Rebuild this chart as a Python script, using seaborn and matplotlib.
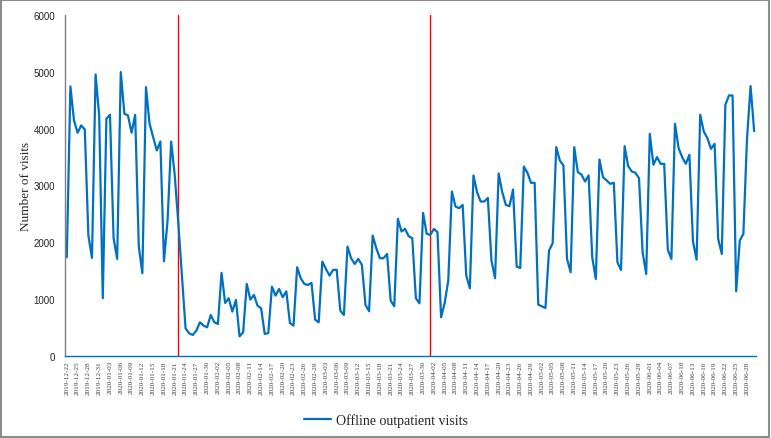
import numpy as np
import pandas as pd
import matplotlib
matplotlib.use("Agg")
import matplotlib.pyplot as plt
import seaborn as sns
from matplotlib.patches import Rectangle

# ---------------------------------------------------------------------------
# Data: daily offline outpatient visits, 2019-12-22 .. 2020-06-30
# ---------------------------------------------------------------------------
START_DATE = "2019-12-22"
END_DATE = "2020-06-30"

visits = [
    1737, 4743, 4144, 3927, 4056, 3986, 2119, 1726, 4954, 4232,
    1016, 4174, 4244, 2072, 1708, 4995, 4262, 4232, 3927, 4244,
    1931, 1456, 4731, 4086, 3851, 3616, 3774, 1667, 2383, 3774,
    3176, 2325, 1415, 487, 399, 370, 446, 593, 534, 505,
    722, 593, 564, 1462, 933, 1016, 781, 986, 346, 417,
    1268, 992, 1074, 886, 839, 387, 405, 1221, 1062, 1180,
    1033, 1139, 581, 534, 1561, 1368, 1268, 1250, 1286, 640,
    593, 1661, 1532, 1415, 1514, 1517, 798, 722, 1925, 1720,
    1620, 1708, 1603, 898, 787, 2119, 1896, 1720, 1720, 1796,
    974, 875, 2413, 2190, 2236, 2107, 2072, 1016, 927, 2518,
    2149, 2131, 2236, 2178, 681, 933, 1327, 2894, 2630, 2600,
    2659, 1415, 1192, 3176, 2882, 2718, 2718, 2782, 1679, 1368,
    3211, 2882, 2659, 2636, 2929, 1573, 1550, 3334, 3223, 3047,
    3047, 904, 875, 845, 1855, 1984, 3675, 3440, 3352, 1708,
    1473, 3675, 3234, 3193, 3070, 3176, 1737, 1356, 3457, 3146,
    3090, 3029, 3047, 1649, 1514, 3692, 3340, 3246, 3223, 3129,
    1826, 1444, 3909, 3364, 3499, 3381, 3381, 1873, 1708, 4086,
    3657, 3499, 3381, 3540, 2013, 1696, 4244, 3951, 3833, 3645,
    3733, 2060, 1796, 4420, 4584, 4584, 1139, 2031, 2148, 3810,
    4749, 3956,
]

event_dates = ["2020-01-22", "2020-04-01"]

y_ticks = [0, 1000, 2000, 3000, 4000, 5000, 6000]
series_label = "Offline outpatient visits"
y_label = "Number of visits"

# ---------------------------------------------------------------------------
# Plot
# ---------------------------------------------------------------------------
dates = pd.date_range(START_DATE, END_DATE, freq="D")
df = pd.DataFrame({"date": dates, "visits": visits})

sns.set_style("white")
plt.rcParams["font.family"] = ["Liberation Serif", "DejaVu Serif"]

fig = plt.figure(figsize=(7.71, 4.39), dpi=100)
ax = fig.add_axes([0.0843, 0.1868, 0.8962, 0.7768])

sns.lineplot(data=df, x="date", y="visits", ax=ax, color="#0070C0",
             linewidth=1.6, label=series_label, legend=False)

for d in event_dates:
    ax.axvline(pd.Timestamp(d), color="#FF0000", linewidth=1.0, zorder=1)

half_day = pd.Timedelta(hours=12)
ax.set_xlim(dates[0] - half_day, dates[-1] + half_day)
ax.set_ylim(0, 6000)
ax.set_yticks(y_ticks)
ax.set_yticklabels([str(v) for v in y_ticks], fontsize=7,
                   family="Liberation Sans")

tick_dates = dates[::3]
ax.set_xticks(tick_dates)
ax.set_xticklabels([d.strftime("%Y-%m-%d") for d in tick_dates],
                   rotation=90, fontsize=5.2, color="#404040")
ax.tick_params(axis="x", length=0, pad=3)
ax.tick_params(axis="y", length=0, pad=7)

ax.set_xlabel(None)
ax.set_ylabel(y_label, fontsize=9.5, labelpad=1)

for side in ["top", "right"]:
    ax.spines[side].set_visible(False)
ax.spines["left"].set_color("#808080")
ax.spines["left"].set_linewidth(1.0)
ax.spines["bottom"].set_color("#0070C0")
ax.spines["bottom"].set_linewidth(1.0)

handles, labels = ax.get_legend_handles_labels()
fig.legend(handles, labels, loc="center", bbox_to_anchor=(0.5, 0.04),
           frameon=False, fontsize=10, handlelength=2.0,
           handletextpad=0.3)

# grey frame around the whole chart
fig.patches.append(Rectangle((0.001, 0.002), 0.997, 0.996,
                             transform=fig.transFigure, fill=False,
                             edgecolor="#8C8C8C", linewidth=1.5))

fig.savefig("out.png", dpi=100)
